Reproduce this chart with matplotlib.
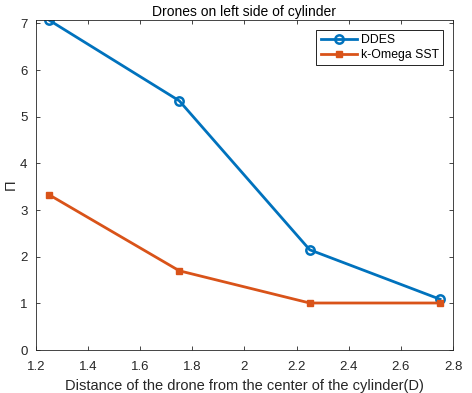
import matplotlib
matplotlib.use("Agg")
import matplotlib.pyplot as plt

x = [1.25, 1.75, 2.25, 2.75]
ddes = [7.07, 5.34, 2.15, 1.09]
komega = [3.33, 1.70, 1.01, 1.01]
xticks = [1.2, 1.4, 1.6, 1.8, 2.0, 2.2, 2.4, 2.6, 2.8]
xticklabels = ["1.2", "1.4", "1.6", "1.8", "2", "2.2", "2.4", "2.6", "2.8"]
yticks = [0, 1, 2, 3, 4, 5, 6, 7]

plt.rcParams['font.family'] = ['Liberation Sans', 'DejaVu Sans']

fig = plt.figure(figsize=(4.72, 3.93), dpi=100)
ax = fig.add_axes([0.076, 0.109, 0.884, 0.84])
ax.plot(x, ddes, color='#0072BD', lw=2, marker='o', ms=6, mfc='none', mew=1.8, label='DDES')
ax.plot(x, komega, color='#D95319', lw=2, marker='s', ms=5, mfc='#D95319', label='k-Omega SST')
ax.set_xlim(1.2, 2.8)
ax.set_ylim(0, 7.07)
ax.set_xticks(xticks)
ax.set_xticklabels(xticklabels)
ax.set_yticks(yticks)
ax.tick_params(direction='in', top=True, right=True, labelsize=9.5, colors='#262626', length=3, width=0.6)
ax.tick_params(axis='x', pad=8)
ax.tick_params(axis='y', pad=6)
for s in ax.spines.values():
    s.set_color('#262626')
    s.set_linewidth(0.6)
ax.set_title('Drones on left side of cylinder', fontsize=10, color='black', pad=3)
ax.set_xlabel('Distance of the drone from the center of the cylinder(D)', fontsize=10.5, color='#262626', labelpad=4)
ax.set_ylabel('Π', fontsize=10.5, color='#262626', labelpad=2)
leg = ax.legend(loc='upper right', fontsize=8.8, fancybox=False, edgecolor='black', framealpha=1,
                borderpad=0.35, handlelength=3.0, labelspacing=0.25, handletextpad=0.3, borderaxespad=0.8)
leg.get_frame().set_linewidth(0.6)
fig.savefig('out.png', dpi=100)
